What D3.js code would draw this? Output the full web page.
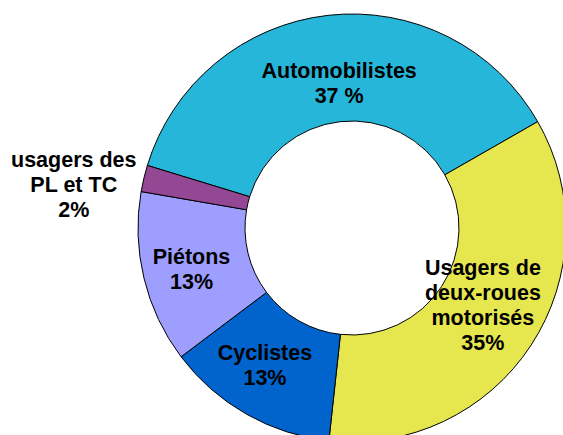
<!DOCTYPE html>
<html>
<head>
<meta charset="utf-8">
<script src="https://cdn.jsdelivr.net/npm/d3@7"></script>
<style>
  html, body { margin: 0; padding: 0; background: #fff; }
  svg { display: block; overflow: hidden; }
  text { font-family: "Liberation Sans", Arial, sans-serif; font-weight: bold; }
</style>
</head>
<body>
<div id="chart"></div>
<script>
// Data (share of road deaths by user type)
var categories = ["Automobilistes", "Usagers de deux-roues motorisés", "Cyclistes", "Piétons", "usagers des PL et TC"];
var values = [37, 35, 13, 13, 2];
var labelLines = [
    ["Automobilistes", "37 %"],
    ["Usagers de", "deux-roues", "motorisés", "35%"],
    ["Cyclistes", "13%"],
    ["Piétons", "13%"],
    ["usagers des", "PL et TC", "2%"]
];
var colors = ["#25B6DA", "#E6E64E", "#0064CC", "#9E9EFF", "#944894"];

var width = 563, height = 435;
var cx = 352, cy = 228;
var outerR = 214, innerR = 107;
var lineH = 25;

// label placement: radius for the centroid, then a small nudge (the small slice is labelled outside)
var labelRadius = { "usagers des PL et TC": 285 };
var labelNudge = {
    "Automobilistes": [5, 15],
    "Usagers de deux-roues motorisés": [-3, -10],
    "Cyclistes": [-8, -2],
    "Piétons": [-5, 4],
    "usagers des PL et TC": [-1, 23]
};

var svg = d3.select("#chart").append("svg")
    .attr("width", width)
    .attr("height", height);

var g = svg.append("g")
    .attr("transform", "translate(" + cx + "," + cy + ")");

var startAngle = -73 * Math.PI / 180;
var pie = d3.pie()
    .sort(null)
    .startAngle(startAngle)
    .endAngle(startAngle + 2 * Math.PI)
    .value(function(d) { return d.value; });

var data = categories.map(function(c, i) {
    return { name: c, value: values[i], lines: labelLines[i], color: colors[i] };
});

var arcs = pie(data);

var arc = d3.arc().innerRadius(innerR).outerRadius(outerR);

g.selectAll("path.slice")
    .data(arcs)
    .enter().append("path")
    .attr("class", "slice")
    .attr("d", arc)
    .style("fill", function(d) { return d.data.color; })
    .style("stroke", "#000")
    .style("stroke-width", 1);

// labels
var labels = g.selectAll("text.lbl")
    .data(arcs)
    .enter().append("text")
    .attr("class", "lbl")
    .attr("text-anchor", "middle")
    .style("font-size", "21.5px")
    .style("fill", "#000")
    .attr("transform", function(d) {
        var r = labelRadius[d.data.name] || 160;
        var pos = d3.arc().innerRadius(r).outerRadius(r).centroid(d);
        var nudge = labelNudge[d.data.name] || [0, 0];
        return "translate(" + (pos[0] + nudge[0]) + "," + (pos[1] + nudge[1]) + ")";
    });

labels.each(function(d) {
    var n = d.data.lines.length;
    var t = d3.select(this);
    d.data.lines.forEach(function(line, i) {
        t.append("tspan")
            .attr("x", 0)
            .attr("y", (i - (n - 1) / 2) * lineH + 7)
            .text(line);
    });
});
</script>
</body>
</html>
